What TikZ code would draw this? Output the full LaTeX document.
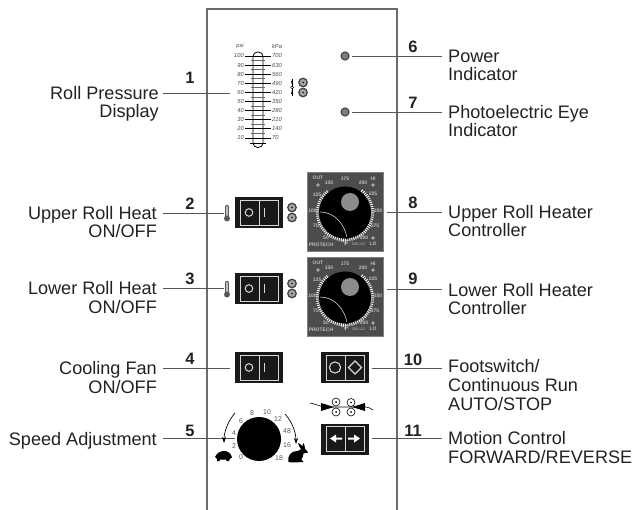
\documentclass[tikz,border=0pt]{standalone}
\usepackage{fontspec}
\setmainfont{Liberation Sans}
\usetikzlibrary{arrows.meta,calc}
\definecolor{ink}{HTML}{222222}
\definecolor{lead}{HTML}{555555}
\definecolor{wline}{HTML}{D8D8D8}
\tikzset{
  x=1pt,y=-1pt,
  lbl/.style={inner sep=0,font=\fontsize{18.1}{18.7}\selectfont,text=ink},
  lblr/.style={lbl,anchor=base east,align=right},
  lbll/.style={lbl,anchor=base west,align=left},
  num/.style={inner sep=0,anchor=base,font=\fontsize{16.5}{17}\selectfont\bfseries,text=ink},
  leader/.style={draw=lead,line width=0.9pt},
  edgeline/.style={draw=black!58,line width=1.5pt},
  swline/.style={draw=wline,line width=0.8pt},
  tiny/.style={inner sep=0,font=\fontsize{5}{5}\selectfont\bfseries,text=black!25},
  gaugetxt/.style={inner sep=0,font=\fontsize{5.8}{6}\selectfont\itshape,text=black!70},
  spd/.style={inner sep=0,font=\fontsize{7}{7}\selectfont,text=black!65},
}
\newcommand{\rocker}[2]{% #1 x-left, #2 y-top of a 48x31 rocker
  \fill[black!90] (#1,#2) rectangle ++(48,31);
  \draw[swline] (#1+5,#2+3) rectangle ++(38,25);
  \draw[swline] (#1+24,#2+3) -- ++(0,25);
}
\newcommand{\twindot}[2]{%
  \foreach \dy in {-5,5}{
    \fill[black!75] (#1,#2+\dy) circle (4.9);
    \fill[black!35] (#1,#2+\dy) circle (3.4);
    \fill[black!85] (#1,#2+\dy) circle (1);
  }
}
\newcommand{\thermo}[2]{%
  \draw[black!65,line width=4.4pt,line cap=round] (#1,#2-6) -- (#1,#2+5);
  \draw[black!25,line width=2.4pt,line cap=round] (#1,#2-6) -- (#1,#2+3);
  \fill[black!65] (#1,#2+5.5) circle (3);
}
\newcommand{\controller}[1]{% #1 = y offset
  \begin{scope}[yshift=-#1pt]
  \fill[black!70!white] (307,172) rectangle (384,252);
  \draw[black!50,line width=0.8pt] (307.5,172.5) rectangle (383.5,251.5);
  \fill[black] (345,212.5) circle (26);
  \foreach \a in {-52,-47.6,...,232.5}{
    \draw[white,line width=0.9pt] ($(345,212.5)+(\a:26.2)$) -- ($(345,212.5)+(\a:29)$);
  }
  \fill[black!45] (350,202) circle (9);
  \draw[black!20,line width=0.6pt] (320,212) .. controls (335,212) and (345,225) .. (347,238);
  \fill[black] (347,238) circle (1.6);
  \fill[black!35] (318,185) circle (1.8);
  \fill[black!35] (373,185) circle (1.8);
  \fill[black!35] (373,238) circle (1.8);
  \node[tiny] at (318,178) {OUT};
  \node[tiny] at (373,178.5) {HI};
  \node[tiny] at (329,183) {150};
  \node[tiny] at (345,179) {175};
  \node[tiny] at (363,183) {200};
  \node[tiny] at (317,195) {125};
  \node[tiny] at (373,194) {225};
  \node[tiny] at (312.5,211) {100};
  \node[tiny] at (378,211) {250};
  \node[tiny] at (316,226) {75};
  \node[tiny] at (375,226) {275};
  \node[tiny] at (326,238) {50};
  \node[tiny] at (364,238) {300};
  \node[tiny] at (373,243.5) {LO};
  \node[tiny] at (321,244.5) {PROTECH};
  \node[inner sep=0,font=\fontsize{7}{7}\selectfont\bfseries,text=black!15] at (345,243.5) {°F};
  \node[inner sep=0,font=\fontsize{3.6}{4}\selectfont,text=black!25] at (358.5,244.5) {000-122};
  \end{scope}
}
\begin{document}
\begin{tikzpicture}
\useasboundingbox (0,0) rectangle (634,510);
\fill[white] (0,0) rectangle (634,510);

% panel edges
\draw[edgeline] (207,510) -- (207,9) -- (397,9) -- (397,510);

% leaders
\coordinate (g1) at (230,93);
\coordinate (t2) at (224,213);
\coordinate (t3) at (224,288);
\coordinate (s4) at (230,368);
\coordinate (d5) at (235,438);
\coordinate (i6) at (352,56);
\coordinate (i7) at (352,112);
\coordinate (c8) at (387,212);
\coordinate (c9) at (387,289);
\coordinate (s10) at (372,368);
\coordinate (s11) at (372,438);
\coordinate (e1) at (163,93);
\coordinate (e2) at (163,213);
\coordinate (e3) at (163,288);
\coordinate (e4) at (163,368);
\coordinate (e5) at (163,438);
\coordinate (e6) at (442,56);
\coordinate (e7) at (442,112);
\coordinate (e8) at (442,212);
\coordinate (e9) at (442,289);
\coordinate (e10) at (442,368);
\coordinate (e11) at (442,438);
\draw[leader] (e1)--(g1) (e2)--(t2) (e3)--(t3) (e4)--(s4) (e5)--(d5);
\draw[leader] (i6)--(e6) (i7)--(e7) (c8)--(e8) (c9)--(e9) (s10)--(e10) (s11)--(e11);

% labels (y = baseline of the last line)
\node[lblr] (L1) at (159,118) {Roll Pressure\\Display};
\node[lblr] (L2) at (157,238) {Upper Roll Heat\\ON/OFF};
\node[lblr] (L3) at (157,313) {Lower Roll Heat\\ON/OFF};
\node[lblr] (L4) at (157,393) {Cooling Fan\\ON/OFF};
\node[lblr] (L5) at (157,445) {Speed Adjustment};
\node[lbll] (R6) at (448,81) {Power\\Indicator};
\node[lbll] (R7) at (448,137) {Photoelectric Eye\\Indicator};
\node[lbll] (R8) at (448,237) {Upper Roll Heater\\Controller};
\node[lbll] (R9) at (448,315) {Lower Roll Heater\\Controller};
\node[lbll] (R10) at (448,410) {Footswitch/\\Continuous Run\\AUTO/STOP};
\node[lbll] (R11) at (448,463) {Motion Control\\FORWARD/REVERSE};

\node[num] (n1) at (190,84) {1};
\node[num] (n2) at (190,210) {2};
\node[num] (n3) at (190,285) {3};
\node[num] (n4) at (190,364) {4};
\node[num] (n5) at (190,436) {5};
\node[num] (n6) at (413,53) {6};
\node[num] (n7) at (413,109) {7};
\node[num] (n8) at (413,209) {8};
\node[num] (n9) at (413,285) {9};
\node[num] (n10) at (413,365) {10};
\node[num] (n11) at (413,436) {11};

% gauge
\node[gaugetxt] at (240,46.5) {psi};
\node[gaugetxt] at (277,46.5) {kPa};
\draw[black,line width=0.8pt,rounded corners=4.5pt] (253,52) rectangle (263,147.5);
\foreach \i/\p/\k in {0/100/700,1/90/630,2/80/560,3/70/490,4/60/420,5/50/350,6/40/280,7/30/210,8/20/140,9/10/70}{
  \pgfmathsetmacro{\yy}{56+9.1*\i}
  \draw[black,line width=0.7pt] (245,\yy) -- (271,\yy);
  \node[gaugetxt,anchor=east] at (244,\yy) {\p};
  \node[gaugetxt,anchor=west] at (272,\yy) {\k};
  \ifnum\i<9
    \draw[black!60,line width=0.7pt] (251,\yy+4.55) -- (265,\yy+4.55);
  \fi
}
\draw[black,line width=0.7pt] (250,143) -- (266,143);
\twindot{303}{87.5}
\draw[black,line width=0.6pt] (292,79) -- (292,96);
\fill[white,draw=black,line width=0.5pt] (292,87.5) circle (1.4);
\fill[black] (292,85) -- (293,81) -- (291,81) -- cycle;
\fill[black] (292,90) -- (293,94) -- (291,94) -- cycle;

% indicators
\foreach \yy in {56,112}{
  \fill[black!75] (345,\yy) circle (4.6);
  \fill[black!50] (345,\yy) circle (3.2);
}

% switches
\rocker{235}{197}
\draw[wline,line width=1pt] (249,212.5) circle (3.8);
\draw[wline,line width=1pt] (264,208) -- (264,217);
\thermo{227}{213}
\twindot{292}{212.5}

\rocker{235}{273}
\draw[wline,line width=1pt] (249,288.5) circle (3.8);
\draw[wline,line width=1pt] (264,284) -- (264,293);
\thermo{227}{289}
\twindot{292}{288.5}

\rocker{235}{352}
\draw[wline,line width=1pt] (249,367.5) circle (3.8);
\draw[wline,line width=1pt] (264,363) -- (264,372);

\rocker{321}{352}
\draw[wline,line width=1.1pt] (335,367.5) circle (5.6);
\draw[wline,line width=1.1pt] (355,361) -- (361.5,367.5) -- (355,374) -- (348.5,367.5) -- cycle;

\rocker{321}{423.5}
\fill[white] (330,438.5) -- (336,434.5) -- (336,437.5) -- (342,437.5) -- (342,439.5) -- (336,439.5) -- (336,442.5) -- cycle;
\fill[white] (360,438.5) -- (354,434.5) -- (354,437.5) -- (348,437.5) -- (348,439.5) -- (354,439.5) -- (354,442.5) -- cycle;

% controllers
\controller{0}
\controller{85}

% rollers
\foreach \xx/\yy in {336/402,336/412,351/402.5,351/412}{
  \draw[black,line width=0.6pt,fill=white] (\xx,\yy) circle (4);
  \fill[black] (\xx,\yy) circle (1);
}
\draw[black,line width=0.6pt] (310,403) .. controls (316,404) and (320,407) .. (329,407) -- (357,407) .. controls (364,407) and (368,406) .. (373,410);
\fill[black] (334,407) -- (321,403) -- (321,411) -- cycle;
\fill[black] (352,407) -- (365,403) -- (365,411) -- cycle;

% speed dial
\fill[black] (259,439) circle (22);
\foreach \t/\xx/\yy in {0/241/457,2/234/446,4/234/433,6/241/421,8/252/413,10/267/412,12/278/419,48/287/431,16/287/445,18/279/458}{
  \node[spd] at (\xx,\yy) {\t};
}
\draw[black,line width=0.7pt,-{Stealth[length=6pt,width=4pt]}] (235,413) .. controls (228,421) and (224,432) .. (224,443);
\draw[black,line width=0.7pt,-{Stealth[length=6pt,width=4pt]}] (285,414) .. controls (292,422) and (296,432) .. (296,444);

% turtle
\fill[black] (215,457) .. controls (217,452) and (222,450.5) .. (226,451) .. controls (229,451.5) and (231,454) .. (232,457.5) .. controls (230,459) and (229,459) .. (229,461) -- (226.5,461) -- (226,459.5) -- (220,459.5) -- (219.5,461) -- (217,461) -- (217,459) .. controls (216,458.5) and (215.5,458) .. (215,457) -- cycle;
% rabbit
\fill[black] (288.5,462) .. controls (287,456) and (291,451) .. (297,451) .. controls (299,451) and (300,450) .. (301,449) .. controls (299,446) and (298,444) .. (298,443) .. controls (300,444) and (301.5,445) .. (302.5,446.5) .. controls (302.5,444.5) and (303,443.5) .. (303.5,443) .. controls (304.5,445) and (305,447) .. (305,449) .. controls (306.5,450) and (307.5,451.5) .. (308,452.5) -- (303.5,453.5) .. controls (303,456) and (302.5,458) .. (301.5,459.5) -- (303.5,462) -- (293,462.5) -- cycle;
\end{tikzpicture}
\end{document}
